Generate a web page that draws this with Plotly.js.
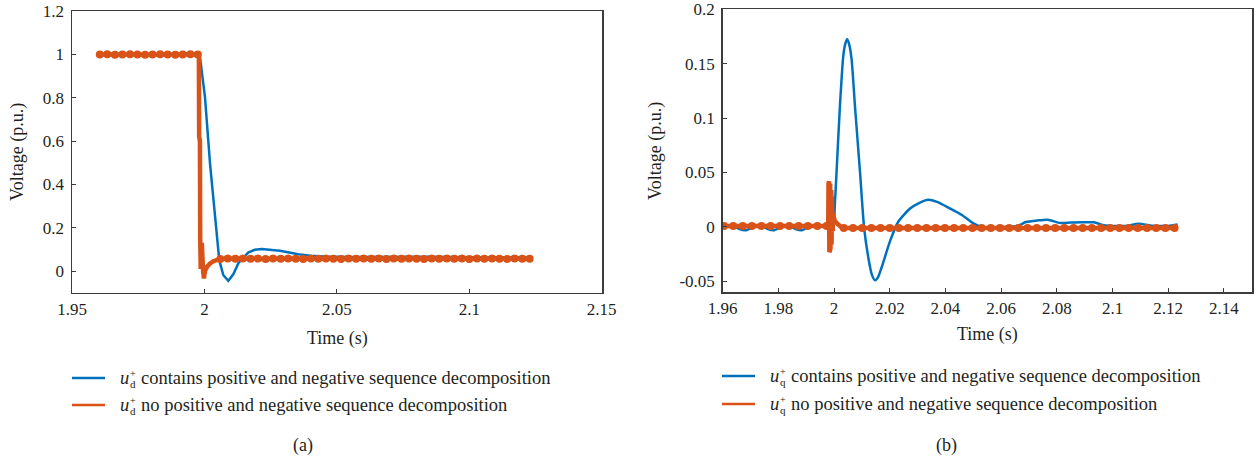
<!DOCTYPE html>
<html>
<head>
<meta charset="utf-8">
<script src="https://cdn.plot.ly/plotly-3.0.1.min.js"></script>
<style>html,body{margin:0;padding:0;background:#fff}#chart{width:1258px;height:463px}</style>
</head>
<body>
<div id="chart"></div>
<script>
// ---------- Panel (a): u_d+ ----------
const aBlueT = [1.9600, 1.9979, 1.9983, 2.0002, 2.0021, 2.0040, 2.0056, 2.0071, 2.0090, 2.0109, 2.0128, 2.0165, 2.0190, 2.0216, 2.0250, 2.0285, 2.0320, 2.0354, 2.0400, 2.0450, 2.0550, 2.0700, 2.0850, 2.1000, 2.1150, 2.1234];
const aBlueV = [1.000, 1.000, 0.990, 0.804, 0.497, 0.250, 0.050, -0.018, -0.045, -0.015, 0.036, 0.085, 0.098, 0.102, 0.099, 0.094, 0.086, 0.078, 0.071, 0.067, 0.065, 0.066, 0.066, 0.064, 0.063, 0.063];

const aOrangePreT = [1.9605, 1.9633, 1.9662, 1.9690, 1.9719, 1.9747, 1.9776, 1.9804, 1.9833, 1.9861, 1.9890, 1.9918, 1.9947, 1.9975];
const aOrangePreV = [1.000, 1.001, 0.999, 1.000, 1.001, 1.000, 0.999, 1.000, 1.001, 1.000, 0.999, 1.000, 1.001, 1.000];
const aOrangeFaultT = [1.9979, 1.9980, 1.9983, 1.9984, 1.9986, 1.9988, 1.9989, 1.9990, 1.9991, 1.9992, 1.9995, 1.9998, 2.0002, 2.0010, 2.0021, 2.0035, 2.0046];
const aOrangeFaultV = [1.000, 0.620, 0.600, 0.150, 0.010, 0.140, 0.030, 0.130, 0.020, 0.090, 0.000, -0.034, 0.000, 0.020, 0.035, 0.046, 0.052];
const aOrangePostT = [2.0060, 2.0088, 2.0117, 2.0145, 2.0174, 2.0202, 2.0231, 2.0259, 2.0288, 2.0316, 2.0345, 2.0373, 2.0402, 2.0430, 2.0459, 2.0487, 2.0516, 2.0544, 2.0573, 2.0601, 2.0630, 2.0658, 2.0687, 2.0715, 2.0744, 2.0772, 2.0801, 2.0829, 2.0858, 2.0886, 2.0915, 2.0943, 2.0972, 2.1000, 2.1029, 2.1057, 2.1086, 2.1114, 2.1143, 2.1171, 2.1200, 2.1228];
const aOrangePostV = [0.056, 0.058, 0.057, 0.058, 0.057, 0.058, 0.056, 0.058, 0.057, 0.058, 0.057, 0.056, 0.058, 0.057, 0.058, 0.057, 0.056, 0.058, 0.057, 0.058, 0.057, 0.058, 0.056, 0.058, 0.057, 0.058, 0.057, 0.056, 0.058, 0.057, 0.058, 0.057, 0.058, 0.056, 0.058, 0.057, 0.058, 0.057, 0.056, 0.058, 0.057, 0.057];

const aXTicks = [1.95, 2, 2.05, 2.1, 2.15];
const aXTickText = ['1.95', '2', '2.05', '2.1', '2.15'];
const aYTicks = [0, 0.2, 0.4, 0.6, 0.8, 1, 1.2];
const aYTickText = ['0', '0.2', '0.4', '0.6', '0.8', '1', '1.2'];

// ---------- Panel (b): u_q+ ----------
const bBlueT = [1.9600, 1.9640, 1.9660, 1.9684, 1.9710, 1.9740, 1.9762, 1.9785, 1.9810, 1.9840, 1.9862, 1.9885, 1.9910, 1.9940, 1.9970, 1.9990, 1.9997, 2.0003, 2.0009, 2.0021, 2.0033, 2.0040, 2.0047, 2.0054, 2.0063, 2.0075, 2.0093, 2.0108, 2.0125, 2.0136, 2.0147, 2.0158, 2.0171, 2.0201, 2.0231, 2.0273, 2.0305, 2.0338, 2.0370, 2.0416, 2.0459, 2.0502, 2.0530, 2.0600, 2.0660, 2.0689, 2.0730, 2.0768, 2.0812, 2.0850, 2.0890, 2.0933, 2.0969, 2.1000, 2.1050, 2.1092, 2.1150, 2.1200, 2.1234];
const bBlueV = [0.001, 0.001, -0.002, -0.003, 0.000, 0.001, -0.002, -0.003, 0.000, 0.001, -0.002, -0.003, 0.000, 0.001, 0.001, 0.000, -0.001, 0.022, 0.051, 0.111, 0.157, 0.168, 0.1725, 0.168, 0.154, 0.111, 0.051, -0.001, -0.031, -0.044, -0.049, -0.046, -0.037, -0.013, 0.005, 0.017, 0.022, 0.025, 0.023, 0.017, 0.011, 0.003, 0.000, 0.000, 0.001, 0.0045, 0.006, 0.0067, 0.0036, 0.004, 0.0043, 0.0043, 0.0015, 0.001, 0.001, 0.003, 0.001, 0.001, 0.0022];

const bOrangePreT = [1.9605, 1.9638, 1.9672, 1.9705, 1.9739, 1.9772, 1.9806, 1.9839, 1.9873, 1.9906, 1.9940, 1.9973];
const bOrangePreV = [0.001, 0.001, 0.001, 0.001, 0.001, 0.001, 0.001, 0.001, 0.001, 0.001, 0.001, 0.001];
const bOrangeFaultT = [1.9979, 1.9980, 1.9981, 1.9982, 1.9983, 1.9984, 1.9985, 1.9986, 1.9987, 1.9988, 1.9989, 1.9990, 1.9991, 1.9992, 1.9993, 1.9994, 1.9995, 1.9996, 1.9998, 2.0002, 2.0008, 2.0016, 2.0025];
const bOrangeFaultV = [0.001, 0.040, -0.022, 0.042, -0.023, 0.041, -0.022, 0.040, -0.021, 0.038, -0.020, 0.034, -0.016, 0.028, -0.010, 0.020, -0.004, 0.012, 0.008, 0.006, 0.004, 0.002, 0.000];
const bOrangePostT = [2.0035, 2.0068, 2.0101, 2.0134, 2.0167, 2.0200, 2.0233, 2.0266, 2.0299, 2.0332, 2.0365, 2.0398, 2.0431, 2.0464, 2.0497, 2.0530, 2.0563, 2.0596, 2.0629, 2.0662, 2.0695, 2.0728, 2.0761, 2.0794, 2.0827, 2.0860, 2.0893, 2.0926, 2.0959, 2.0992, 2.1025, 2.1058, 2.1091, 2.1124, 2.1157, 2.1190, 2.1223];
const bOrangePostV = [-0.001, -0.001, -0.001, -0.001, -0.001, -0.001, -0.001, -0.001, -0.001, -0.001, -0.001, -0.001, -0.001, -0.001, -0.001, -0.001, -0.001, -0.001, -0.001, -0.001, -0.001, -0.001, -0.001, -0.001, -0.001, -0.001, -0.001, -0.001, -0.001, -0.001, -0.001, -0.001, -0.001, -0.001, -0.001, -0.001, -0.001];

const bXTicks = [1.96, 1.98, 2, 2.02, 2.04, 2.06, 2.08, 2.1, 2.12, 2.14];
const bXTickText = ['1.96', '1.98', '2', '2.02', '2.04', '2.06', '2.08', '2.1', '2.12', '2.14'];
const bYTicks = [-0.05, 0, 0.05, 0.1, 0.15, 0.2];
const bYTickText = ['-0.05', '0', '0.05', '0.1', '0.15', '0.2'];

const legendTextBlue = 'contains positive and negative sequence decomposition';
const legendTextOrange = 'no positive and negative sequence decomposition';
const xTitle = 'Time (s)';
const yTitle = 'Voltage (p.u.)';

// ---------- styles ----------
const W = 1258, H = 463;
const BLUE = '#0072BD', ORANGE = '#D95319', AX = '#3c3c3c', TXT = '#231f20';
const FONT = "'Liberation Serif', 'DejaVu Serif', serif";
const px = x => x / W;
const py = y => 1 - y / H;

const traces = [
  {x: aBlueT, y: aBlueV, xaxis: 'x', yaxis: 'y', mode: 'lines', line: {color: BLUE, width: 2.5}, showlegend: false},
  {x: aOrangePreT.concat(aOrangeFaultT, aOrangePostT), y: aOrangePreV.concat(aOrangeFaultV, aOrangePostV), xaxis: 'x', yaxis: 'y', mode: 'lines', line: {color: ORANGE, width: 4.5}, showlegend: false},
  {x: aOrangePreT.concat(aOrangePostT), y: aOrangePreV.concat(aOrangePostV), xaxis: 'x', yaxis: 'y', mode: 'markers', marker: {color: ORANGE, size: 8}, showlegend: false},
  {x: bBlueT, y: bBlueV, xaxis: 'x2', yaxis: 'y2', mode: 'lines', line: {color: BLUE, width: 2.5, shape: 'spline', smoothing: 0.6}, showlegend: false},
  {x: bOrangePreT.concat(bOrangeFaultT, bOrangePostT), y: bOrangePreV.concat(bOrangeFaultV, bOrangePostV), xaxis: 'x2', yaxis: 'y2', mode: 'lines', line: {color: ORANGE, width: 4.5}, showlegend: false},
  {x: bOrangePreT.concat(bOrangePostT), y: bOrangePreV.concat(bOrangePostV), xaxis: 'x2', yaxis: 'y2', mode: 'markers', marker: {color: ORANGE, size: 8}, showlegend: false}
];

const axisBase = {
  showline: true, mirror: true, linecolor: AX, linewidth: 1.5,
  ticks: 'inside', ticklen: 4, tickwidth: 1, tickcolor: AX,
  showgrid: false, zeroline: false, tickmode: 'array', ticklabeloverflow: 'allow',
  tickfont: {family: FONT, size: 17, color: TXT}, fixedrange: true
};

const annotations = [];
const shapes = [];
function ann(text, x, y, size, opts) {
  annotations.push(Object.assign({text: text, xref: 'paper', yref: 'paper', x: px(x), y: py(y), showarrow: false,
    xanchor: 'center', yanchor: 'middle', font: {family: FONT, size: size, color: TXT}}, opts || {}));
}
// axis titles
ann(xTitle, 337, 338, 18);
ann(xTitle, 987, 334, 18);
ann(yTitle, 18, 152, 18, {textangle: -90});
ann(yTitle, 655, 151, 18, {textangle: -90});
// panel labels
ann('(a)', 303, 445, 18);
ann('(b)', 946, 445, 18);

// legends
function legendItem(x0, y, color, sub, text) {
  shapes.push({type: 'line', xref: 'paper', yref: 'paper', x0: px(x0), x1: px(x0 + 33), y0: py(y), y1: py(y), line: {color: color, width: 2.5}});
  ann('<i>u</i>', x0 + 46, y, 18.5, {xanchor: 'left'});
  ann('+', x0 + 56, y - 5, 10, {xanchor: 'left'});
  ann(sub, x0 + 56, y + 6, 11, {xanchor: 'left'});
  ann(text, x0 + 67, y, 18.5, {xanchor: 'left'});
}
legendItem(72, 378, BLUE, 'd', legendTextBlue);
legendItem(72, 405, ORANGE, 'd', legendTextOrange);
legendItem(722, 376, BLUE, 'q', legendTextBlue);
legendItem(722, 404, ORANGE, 'q', legendTextOrange);

const layout = {
  width: W, height: H, margin: {l: 0, r: 0, t: 0, b: 0},
  paper_bgcolor: '#fff', plot_bgcolor: '#fff', showlegend: false,
  font: {family: FONT, color: TXT},
  xaxis: Object.assign({}, axisBase, {domain: [px(72), px(602)], range: [1.95, 2.1501], tickvals: aXTicks, ticktext: aXTickText, anchor: 'y', ticklabelstandoff: 0}),
  yaxis: Object.assign({}, axisBase, {domain: [py(292.7), py(11)], range: [-0.1, 1.2005], tickvals: aYTicks, ticktext: aYTickText, anchor: 'x', ticklabelstandoff: 3}),
  xaxis2: Object.assign({}, axisBase, {domain: [px(722.7), px(1252)], range: [1.96, 2.1501], tickvals: bXTicks, ticktext: bXTickText, anchor: 'y2', ticklabelstandoff: 0}),
  yaxis2: Object.assign({}, axisBase, {domain: [py(292.3), py(9)], range: [-0.06, 0.2002], tickvals: bYTicks, ticktext: bYTickText, anchor: 'x2', ticklabelstandoff: 3}),
  annotations: annotations, shapes: shapes
};

Plotly.newPlot('chart', traces, layout, {displayModeBar: false, staticPlot: true});
</script>
</body>
</html>
